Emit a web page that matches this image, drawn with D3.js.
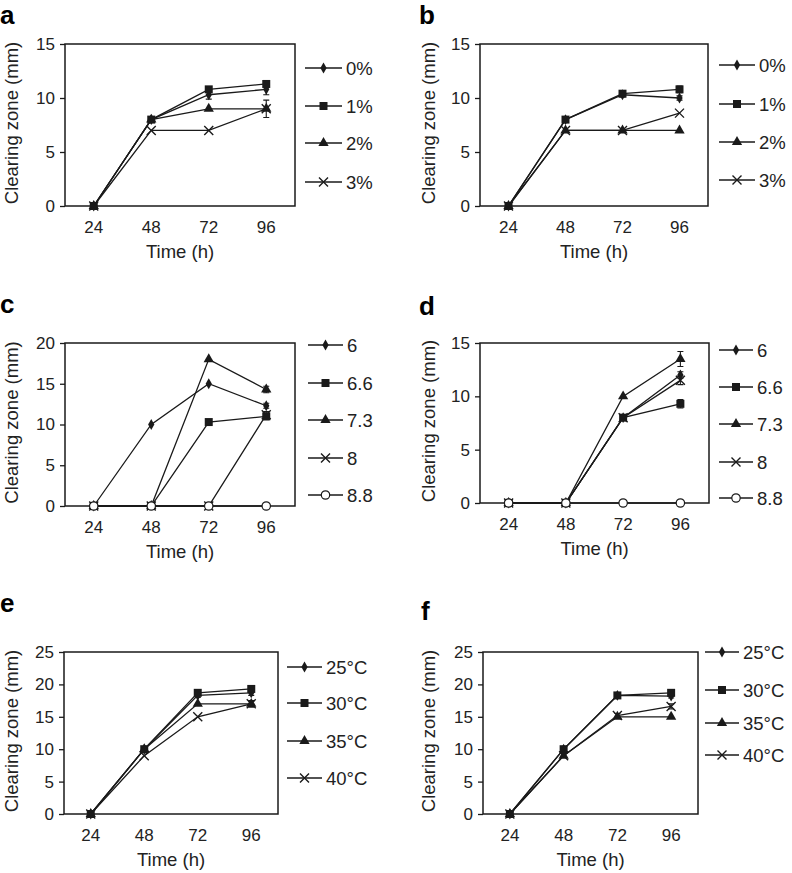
<!DOCTYPE html>
<html><head><meta charset="utf-8">
<script src="https://cdn.jsdelivr.net/npm/d3@7"></script>
<style>body{margin:0;background:#fff}svg{display:block;font-family:"Liberation Sans",Arial,sans-serif}</style>
</head><body><svg id="c" width="792" height="873"></svg>
<script>
// ---- data ----
const timeLabels = ["24", "48", "72", "96"];
const concLabels = ["0%", "1%", "2%", "3%"];
const phLabels = ["6", "6.6", "7.3", "8", "8.8"];
const tempLabels = ["25°C", "30°C", "35°C", "40°C"];

const aValues = [[0, 8, 10.3, 10.8], [0, 8, 10.8, 11.3], [0, 8, 9, 9], [0, 7, 7, 9]];
const aErrors = [[0, 0, 0.4, 0.5], [0, 0, 0.2, 0.3], [0, 0, 0, 0], [0, 0, 0, 0.8]];
const bValues = [[0, 8, 10.3, 10.0], [0, 8, 10.4, 10.8], [0, 7, 7, 7], [0, 7, 7, 8.6]];
const bErrors = [[0, 0, 0.2, 0.2], [0, 0, 0.2, 0.3], [0, 0, 0, 0], [0, 0, 0, 0]];
const cValues = [[0, 10, 15, 12.3], [0, 0, 10.3, 11], [0, 0, 18, 14.3], [0, 0, 0, 11.2], [0, 0, 0, 0]];
const cErrors = [[0, 0, 0, 0.3], [0, 0, 0.3, 0.4], [0, 0, 0, 0.4], [0, 0, 0, 0.4], [0, 0, 0, 0]];
const dValues = [[0, 0, 8, 12], [0, 0, 8, 9.3], [0, 0, 10, 13.5], [0, 0, 8, 11.5], [0, 0, 0, 0]];
const dErrors = [[0, 0, 0, 0.3], [0, 0, 0, 0.4], [0, 0, 0, 0.7], [0, 0, 0, 0.4], [0, 0, 0, 0]];
const eValues = [[0, 10, 18.3, 18.7], [0, 10, 18.7, 19.3], [0, 10, 17, 17], [0, 9, 15, 17]];
const eErrors = [[0, 0, 0.3, 0.4], [0, 0, 0.3, 0.3], [0, 0, 0, 0.5], [0, 0, 0, 0.4]];
const fValues = [[0, 10, 18.3, 18.2], [0, 10, 18.3, 18.7], [0, 9, 15, 15], [0, 9, 15.2, 16.6]];
const fErrors = [[0, 0, 0, 0.3], [0, 0, 0, 0.3], [0, 0, 0, 0], [0, 0, 0.3, 0.4]];

const yMaxA = 15, yMaxC = 20, yMaxD = 15, yMaxE = 25;
const markerKinds = ["diamond", "square", "triangle", "cross", "circle"];

// ---- layout ----
const panels = [
  {letter: "a", lx: 0, ly: 24, box: [65, 44, 295, 206], ymax: yMaxA, labels: concLabels, values: aValues, errors: aErrors,
   leg: {x0: 305, x1: 342, rows: [68, 106, 143, 182]}, titleX: 12},
  {letter: "b", lx: 419, ly: 24, box: [480, 44, 708, 206], ymax: yMaxA, labels: concLabels, values: bValues, errors: bErrors,
   leg: {x0: 719, x1: 755, rows: [65, 104, 142, 180]}, titleX: 429},
  {letter: "c", lx: 0, ly: 313, box: [65, 343, 295, 506], ymax: yMaxC, labels: phLabels, values: cValues, errors: cErrors,
   leg: {x0: 308, x1: 343, rows: [345, 383, 420, 458, 495]}, titleX: 12},
  {letter: "d", lx: 419, ly: 315, box: [480, 343, 709, 503], ymax: yMaxD, labels: phLabels, values: dValues, errors: dErrors,
   leg: {x0: 719, x1: 753, rows: [350, 387, 424, 462, 498]}, titleX: 429},
  {letter: "e", lx: 0, ly: 612, box: [64, 652, 278, 814], ymax: yMaxE, labels: tempLabels, values: eValues, errors: eErrors,
   leg: {x0: 287, x1: 322, rows: [667, 703, 741, 778]}, titleX: 12},
  {letter: "f", lx: 421, ly: 620, box: [483, 652, 698, 814], ymax: yMaxE, labels: tempLabels, values: fValues, errors: fErrors,
   leg: {x0: 705, x1: 739, rows: [652, 690, 723, 755]}, titleX: 429}
];

const svg = d3.select("#c");
const ink = "#1a1a1a";
const txt = "#222";

function drawMarker(g, kind, x, y) {
  if (kind === "circle") {
    g.append("circle").attr("cx", x).attr("cy", y).attr("r", 4.2).attr("fill", "#fff").attr("stroke", ink).attr("stroke-width", 1.2);
  } else if (kind === "cross") {
    const s = 4.5;
    g.append("path").attr("d", `M${x - s},${y - s}L${x + s},${y + s}M${x - s},${y + s}L${x + s},${y - s}`)
      .attr("stroke", ink).attr("stroke-width", 1.4).attr("fill", "none");
  } else {
    const sym = kind === "diamond" ? d3.symbolDiamond : kind === "square" ? d3.symbolSquare : d3.symbolTriangle;
    const size = kind === "diamond" ? 34 : kind === "square" ? 64 : 46;
    g.append("path").attr("d", d3.symbol(sym, size)()).attr("transform", `translate(${x},${y})`).attr("fill", ink);
  }
}

panels.forEach(p => {
  const [L, T, R, B] = p.box;
  const g = svg.append("g");
  const x = d3.scaleBand().domain(timeLabels).range([L, R]);
  const y = d3.scaleLinear().domain([0, p.ymax]).range([B, T]);
  const cx = t => x(t) + x.bandwidth() / 2;

  // letter
  g.append("text").attr("x", p.lx).attr("y", p.ly).attr("font-size", 26).attr("font-weight", "bold").attr("fill", "#000").text(p.letter);

  // box
  g.append("rect").attr("x", L).attr("y", T).attr("width", R - L).attr("height", B - T)
    .attr("fill", "none").attr("stroke", ink).attr("stroke-width", 1.5);

  // y axis
  const ya = d3.axisLeft(y).ticks(p.ymax / 5).tickSize(5).tickPadding(5);
  const yg = g.append("g").attr("transform", `translate(${L},0)`).call(ya);
  yg.select(".domain").remove();
  yg.selectAll("line").attr("stroke", ink).attr("stroke-width", 1.3);
  yg.selectAll("text").attr("font-size", 17).attr("fill", txt).attr("font-family", "Liberation Sans, Arial, sans-serif");

  // x axis labels
  const xa = d3.axisBottom(x).tickSize(0).tickPadding(15);
  const xg = g.append("g").attr("transform", `translate(0,${B})`).call(xa);
  xg.select(".domain").remove();
  xg.selectAll("text").attr("font-size", 17).attr("fill", txt).attr("font-family", "Liberation Sans, Arial, sans-serif");

  g.append("text").attr("x", (L + R) / 2).attr("y", B + 52).attr("text-anchor", "middle")
    .attr("font-size", 18.5).attr("fill", txt).text("Time (h)");
  g.append("text").attr("transform", `translate(${p.titleX + 6},${(T + B) / 2 - 2}) rotate(-90)`).attr("text-anchor", "middle")
    .attr("font-size", 18.5).attr("fill", txt).text("Clearing zone (mm)");

  // series
  const line = d3.line().x((d, i) => cx(timeLabels[i])).y(d => y(d));
  p.values.forEach(vals => {
    g.append("path").attr("d", line(vals)).attr("fill", "none").attr("stroke", ink).attr("stroke-width", 1.3);
  });
  p.values.forEach((vals, si) => {
    vals.forEach((v, i) => {
      const e = p.errors[si][i];
      if (e > 0) {
        const xx = cx(timeLabels[i]);
        g.append("path").attr("d", `M${xx},${y(v - e)}V${y(v + e)}M${xx - 3},${y(v - e)}H${xx + 3}M${xx - 3},${y(v + e)}H${xx + 3}`)
          .attr("stroke", ink).attr("stroke-width", 1.1).attr("fill", "none");
      }
    });
  });
  p.values.forEach((vals, si) => {
    vals.forEach((v, i) => drawMarker(g, markerKinds[si], cx(timeLabels[i]), y(v)));
  });

  // legend
  p.labels.forEach((lab, i) => {
    const ry = p.leg.rows[i];
    g.append("line").attr("x1", p.leg.x0).attr("x2", p.leg.x1).attr("y1", ry).attr("y2", ry).attr("stroke", ink).attr("stroke-width", 1.3);
    drawMarker(g, markerKinds[i], (p.leg.x0 + p.leg.x1) / 2, ry);
    g.append("text").attr("x", p.leg.x1 + 4).attr("y", ry + 6.5).attr("font-size", 18.5).attr("fill", txt).text(lab);
  });
});
</script></body></html>
